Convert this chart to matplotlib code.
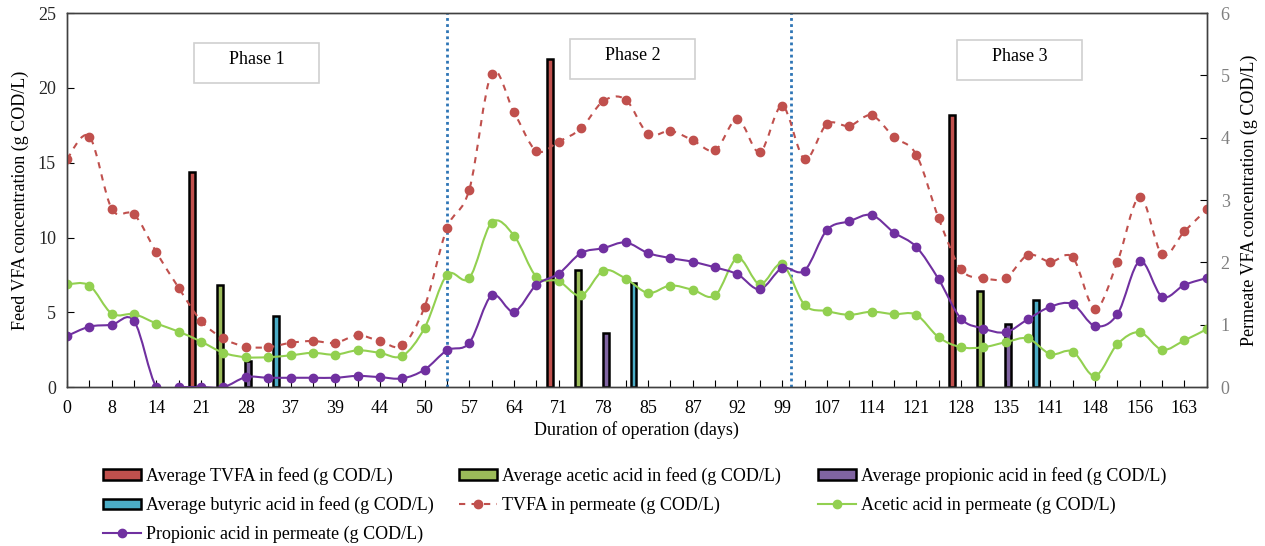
import numpy as np
import matplotlib.pyplot as plt
from matplotlib.path import Path
from matplotlib.patches import PathPatch, Rectangle
from matplotlib.lines import Line2D

plt.rcParams['font.family'] = ['Liberation Serif', 'DejaVu Serif']
plt.rcParams['font.size'] = 13

# Sampling days (category axis, every other label shown)
days = [0, 4, 8, 11, 14, 18, 21, 25, 28, 35, 37, 38, 39, 42, 44, 46, 50, 53,
        57, 60, 64, 67, 71, 74, 78, 81, 85, 86, 87, 89, 92, 95, 99, 103, 107,
        110, 114, 118, 121, 125, 128, 131, 135, 138, 141, 144, 148, 152, 156,
        159, 163, 166]

# Permeate concentrations (g COD/L), right axis
tvfa_perm = [3.66, 4.02, 2.86, 2.77, 2.16, 1.59, 1.06, 0.78, 0.65, 0.64, 0.71,
             0.74, 0.71, 0.83, 0.74, 0.67, 1.29, 2.55, 3.17, 5.03, 4.41, 3.79,
             3.94, 4.15, 4.59, 4.61, 4.06, 4.11, 3.96, 3.80, 4.30, 3.77, 4.51,
             3.66, 4.22, 4.19, 4.36, 4.01, 3.73, 2.71, 1.89, 1.75, 1.75, 2.12,
             2.01, 2.08, 1.26, 2.01, 3.05, 2.13, 2.50, 2.85]
acetic_perm = [1.65, 1.63, 1.18, 1.17, 1.02, 0.89, 0.73, 0.55, 0.48, 0.48, 0.51,
               0.55, 0.52, 0.59, 0.55, 0.50, 0.95, 1.80, 1.75, 2.64, 2.43, 1.77,
               1.70, 1.47, 1.87, 1.74, 1.51, 1.63, 1.56, 1.47, 2.07, 1.65, 1.97,
               1.32, 1.22, 1.16, 1.21, 1.17, 1.16, 0.80, 0.64, 0.64, 0.72, 0.78,
               0.53, 0.57, 0.18, 0.69, 0.88, 0.60, 0.75, 0.93]
propionic_perm = [0.82, 0.97, 1.00, 1.06, 0.0, 0.0, 0.0, 0.0, 0.16, 0.15, 0.15,
                  0.15, 0.15, 0.18, 0.16, 0.14, 0.28, 0.59, 0.71, 1.47, 1.21,
                  1.64, 1.82, 2.15, 2.23, 2.32, 2.15, 2.07, 2.01, 1.92, 1.81,
                  1.57, 1.91, 1.87, 2.52, 2.66, 2.76, 2.48, 2.25, 1.73, 1.10,
                  0.94, 0.88, 1.09, 1.29, 1.33, 0.98, 1.17, 2.02, 1.45, 1.64,
                  1.75]

# Average feed concentrations per phase (g COD/L), left axis
tvfa_feed = [14.4, 21.9, 18.2]
acetic_feed = [6.85, 7.8, 6.4]
propionic_feed = [1.75, 3.65, 4.2]
butyric_feed = [4.75, 6.95, 5.85]
tvfa_feed_pos = [5.6, 21.6, 39.6]
acetic_feed_pos = [6.85, 22.85, 40.85]
propionic_feed_pos = [8.1, 24.1, 42.1]
butyric_feed_pos = [9.35, 25.35, 43.35]

phase_bounds = [17.0, 32.4]
phase_names = ['Phase 1', 'Phase 2', 'Phase 3']


def smooth_path(x, y):
    # cubic Bezier through every point, like a spreadsheet "smoothed line"
    n = len(x)
    verts = [(x[0], y[0])]
    codes = [Path.MOVETO]
    for i in range(n - 1):
        xa, ya = (x[i - 1], y[i - 1]) if i > 0 else (x[i], y[i])
        xb, yb = (x[i + 2], y[i + 2]) if i + 2 < n else (x[i + 1], y[i + 1])
        c1 = (x[i] + (x[i + 1] - xa) / 6, y[i] + (y[i + 1] - ya) / 6)
        c2 = (x[i + 1] - (xb - x[i]) / 6, y[i + 1] - (yb - y[i]) / 6)
        verts += [c1, c2, (x[i + 1], y[i + 1])]
        codes += [Path.CURVE4] * 3
    return Path(verts, codes)


fig = plt.figure(figsize=(12.65, 5.46), dpi=100)
ax = fig.add_axes([0.053, 0.291, 0.901, 0.685])
ax2 = ax.twinx()

idx = np.arange(len(days))

bar_w = 0.26
ax.bar(tvfa_feed_pos, tvfa_feed, width=bar_w, color='#C0504D', edgecolor='black', linewidth=1.8)
ax.bar(acetic_feed_pos, acetic_feed, width=bar_w, color='#9BBB59', edgecolor='black', linewidth=1.8)
ax.bar(propionic_feed_pos, propionic_feed, width=bar_w, color='#8064A2', edgecolor='black', linewidth=1.8)
ax.bar(butyric_feed_pos, butyric_feed, width=bar_w, color='#4BACC6', edgecolor='black', linewidth=1.8)

for xb in phase_bounds:
    ax.axvline(xb, color='#2E75B6', linestyle=(0, (1, 1.2)), linewidth=2)

series = [
    (tvfa_perm, '#C0504D', (0, (3, 3))),
    (acetic_perm, '#92D050', '-'),
    (propionic_perm, '#7030A0', '-'),
]
for vals, col, ls in series:
    ax2.add_patch(PathPatch(smooth_path(idx, vals), facecolor='none',
                            edgecolor=col, linewidth=1.5, linestyle=ls))
    ax2.plot(idx, vals, 'o', color=col, markersize=6, linestyle='none')

ax.set_xlim(0, len(days) - 1)
ax.set_ylim(0, 25)
ax2.set_ylim(0, 6)
ax.set_yticks(range(0, 26, 5))
ax2.set_yticks(range(0, 7))

ax.set_xticks(idx)
ax.set_xticklabels([str(d) if i % 2 == 0 else '' for i, d in enumerate(days)])
ax.tick_params(axis='x', direction='in', length=5, pad=9, colors='black')
ax.tick_params(axis='y', direction='in', length=5, pad=8, labelcolor='#262626')
ax2.tick_params(axis='y', direction='in', length=5, pad=10, labelcolor='#7F7F7F')

for a in (ax, ax2):
    for s in a.spines.values():
        s.set_color('#404040')
        s.set_linewidth(1)

ax.set_xlabel('Duration of operation (days)', labelpad=3)
ax.set_ylabel('Feed VFA concentration (g COD/L)', labelpad=6)
ax2.set_ylabel('Permeate VFA concentration (g COD/L)', labelpad=8)

# phase labels in boxes
phase_centers = [(0.1664, 0.867), (0.4963, 0.876), (0.836, 0.874)]
bw, bh = 0.1096, 0.107
for name, (cx, cy) in zip(phase_names, phase_centers):
    ax2.add_patch(Rectangle((cx - bw / 2, cy - bh / 2), bw, bh, transform=ax2.transAxes,
                            facecolor='white', edgecolor='#D0D0D0', linewidth=1.2, zorder=5))
    ax2.text(cx, cy + 0.01, name, transform=ax2.transAxes, ha='center', va='center',
             fontsize=13, zorder=6)

# legend, three columns
def bar_handle(c):
    return Rectangle((0, 0), 1, 1, facecolor=c, edgecolor='black', linewidth=1.8)

def line_handle(c, ls):
    return Line2D([], [], color=c, linestyle=ls, linewidth=1.5, marker='o', markersize=6)

columns = [
    ([bar_handle('#C0504D'), bar_handle('#4BACC6'), line_handle('#7030A0', '-')],
     ['Average TVFA in feed (g COD/L)', 'Average butyric acid in feed (g COD/L)',
      'Propionic acid in permeate (g COD/L)'], 103),
    ([bar_handle('#9BBB59'), line_handle('#C0504D', (0, (3, 3)))],
     ['Average acetic acid in feed (g COD/L)', 'TVFA in permeate (g COD/L)'], 459),
    ([bar_handle('#8064A2'), line_handle('#92D050', '-')],
     ['Average propionic acid in feed (g COD/L)', 'Acetic acid in permeate (g COD/L)'], 818),
]
for handles, labels, xpx in columns:
    fig.legend(handles, labels, loc='upper left', bbox_to_anchor=(xpx / 1265, 1 - 467 / 546),
               frameon=False, borderaxespad=0, borderpad=0, handlelength=2.1,
               handleheight=0.5, handletextpad=0.3, labelspacing=0.63, fontsize=13)

fig.savefig('out.png', dpi=100)
